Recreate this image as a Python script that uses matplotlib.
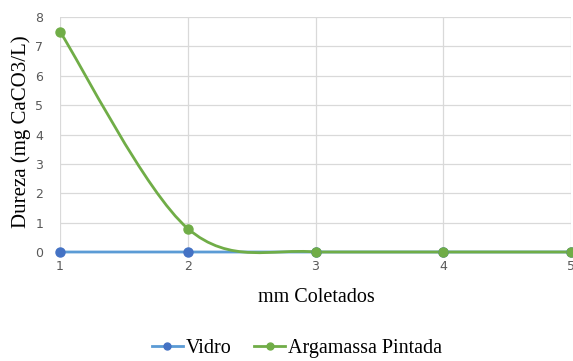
import numpy as np
import matplotlib.pyplot as plt
from matplotlib.path import Path
from matplotlib.patches import PathPatch
from matplotlib.lines import Line2D

# Data
x = [1, 2, 3, 4, 5]
vidro = [0, 0, 0, 0, 0]
argamassa = [7.5, 0.8, 0, 0, 0]

BLUE_LINE = '#5B9BD5'
BLUE_MARK = '#4472C4'
GREEN = '#70AD47'


def smooth_path(xs, ys):
    # Excel-style smoothed line: cubic bezier with 1/6 tangent control points,
    # flat segments stay flat
    pts = np.column_stack([xs, ys]).astype(float)
    n = len(pts)
    verts = [pts[0]]
    codes = [Path.MOVETO]
    for i in range(n - 1):
        p0 = pts[i - 1] if i > 0 else pts[i]
        p1 = pts[i]
        p2 = pts[i + 1]
        p3 = pts[i + 2] if i + 2 < n else pts[i + 1]
        c1 = p1 + (p2 - p0) / 6
        c2 = p2 - (p3 - p1) / 6
        if p1[1] == p2[1]:
            c1[1] = c2[1] = p1[1]
        verts += [c1, c2, p2]
        codes += [Path.CURVE4] * 3
    return Path(verts, codes)


fig = plt.figure(figsize=(5.73, 3.61), dpi=100)
ax = fig.add_axes([60 / 573, 1 - 252 / 361, 511 / 573, 235 / 361])

for ys, lc, mc in [(vidro, BLUE_LINE, BLUE_MARK), (argamassa, GREEN, GREEN)]:
    ax.add_patch(PathPatch(smooth_path(x, ys), facecolor='none', edgecolor=lc,
                           lw=2, zorder=3, clip_on=False))
    ax.plot(x, ys, 'o', color=mc, ms=6.5, zorder=4, clip_on=False)

ax.set_xlim(1, 5)
ax.set_ylim(0, 8)
ax.set_xticks(x)
ax.set_yticks(range(0, 9))
ax.grid(True, color='#d9d9d9', lw=0.9)
ax.set_axisbelow(True)
for s in ax.spines.values():
    s.set_visible(False)
ax.tick_params(length=0, labelsize=9, colors='#595959', pad=6)
ax.tick_params(axis='y', pad=12)

serif = 'Liberation Serif'
fig.text(21 / 573, 1 - 132 / 361, 'Dureza (mg CaCO3/L)', family=serif,
         fontsize=15, rotation=90, ha='center', va='center')
fig.text(316 / 573, 1 - 297 / 361, 'mm Coletados', family=serif, fontsize=14.5,
         ha='center', va='center')

handles = [Line2D([], [], color=BLUE_LINE, lw=2, marker='o', ms=5,
                  mfc=BLUE_MARK, mec=BLUE_MARK),
           Line2D([], [], color=GREEN, lw=2, marker='o', ms=5)]
fig.legend(handles, ['Vidro', 'Argamassa Pintada'], loc='center',
           bbox_to_anchor=(297 / 573, 1 - 348 / 361), ncol=2, frameon=False,
           prop={'family': serif, 'size': 14.5}, handlelength=1.55,
           columnspacing=1.1, handletextpad=0.15)

fig.savefig('out.png', dpi=100)
